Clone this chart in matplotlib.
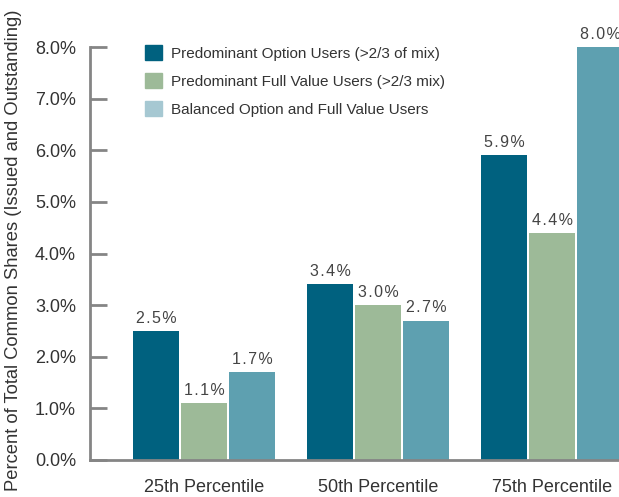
import numpy as np
import matplotlib.pyplot as plt
from matplotlib.patches import Patch

plt.rcParams['font.family'] = ['Liberation Sans', 'DejaVu Sans']

categories = ['25th Percentile', '50th Percentile', '75th Percentile']
series_names = ['Predominant Option Users (>2/3 of mix)',
                'Predominant Full Value Users (>2/3 mix)',
                'Balanced Option and Full Value Users']
option_users = [2.5, 3.4, 5.9]
full_value_users = [1.1, 3.0, 4.4]
balanced_users = [1.7, 2.7, 8.0]

bar_colors = ['#00617f', '#9dba98', '#5ea0b0']
legend_colors = ['#00617f', '#9dba98', '#a6c8d2']
text_color = '#333333'
axis_color = '#858585'

fig = plt.figure(figsize=(6.19, 4.97), dpi=100)
ax = fig.add_axes([90 / 619, 37 / 497, 1 - 90 / 619, (460 - 47) / 497 * 8.2 / 8.0])

x = np.arange(len(categories))
step = 0.276
width = 0.264
for i, vals in enumerate([option_users, full_value_users, balanced_users]):
    pos = x + (i - 1) * step
    ax.bar(pos, vals, width=width, color=bar_colors[i])
    for p, v in zip(pos, vals):
        ax.text(p, v + 0.1, '\u200a'.join(f'{v:.1f}%'), ha='center', va='bottom',
                fontsize=11.5, color='#444444')

ax.set_xlim(-0.655, 2.385)
ax.set_ylim(0, 8.2)
ax.set_yticks(np.arange(0, 8.01, 1.0))
ax.set_yticklabels([f'{t:.1f}%' for t in np.arange(0, 8.01, 1.0)])
ax.set_xticks(x)
ax.set_xticklabels(categories)
ax.tick_params(axis='x', length=0, pad=14, labelsize=13, labelcolor=text_color)
ax.tick_params(axis='y', direction='in', length=12, width=2, color=axis_color,
               pad=10, labelsize=13, labelcolor=text_color)

for s in ['top', 'right']:
    ax.spines[s].set_visible(False)
for s in ['left', 'bottom']:
    ax.spines[s].set_color(axis_color)
    ax.spines[s].set_linewidth(2)
ax.spines['left'].set_bounds(0, 8.0)

ax.set_ylabel('Percent of Total Common Shares (Issued and Outstanding)',
              fontsize=13.2, color=text_color, va='center', ha='center')
ax.yaxis.set_label_coords(-0.1437, 0.496)

handles = [Patch(color=c) for c in legend_colors]
ax.legend(handles, series_names, loc='upper left', bbox_to_anchor=(0.078, 1.012),
          frameon=False, fontsize=11, handlelength=1.1, handleheight=1.1,
          labelspacing=0.82, handletextpad=0.6, labelcolor=text_color)

fig.savefig('out.png', dpi=100)
